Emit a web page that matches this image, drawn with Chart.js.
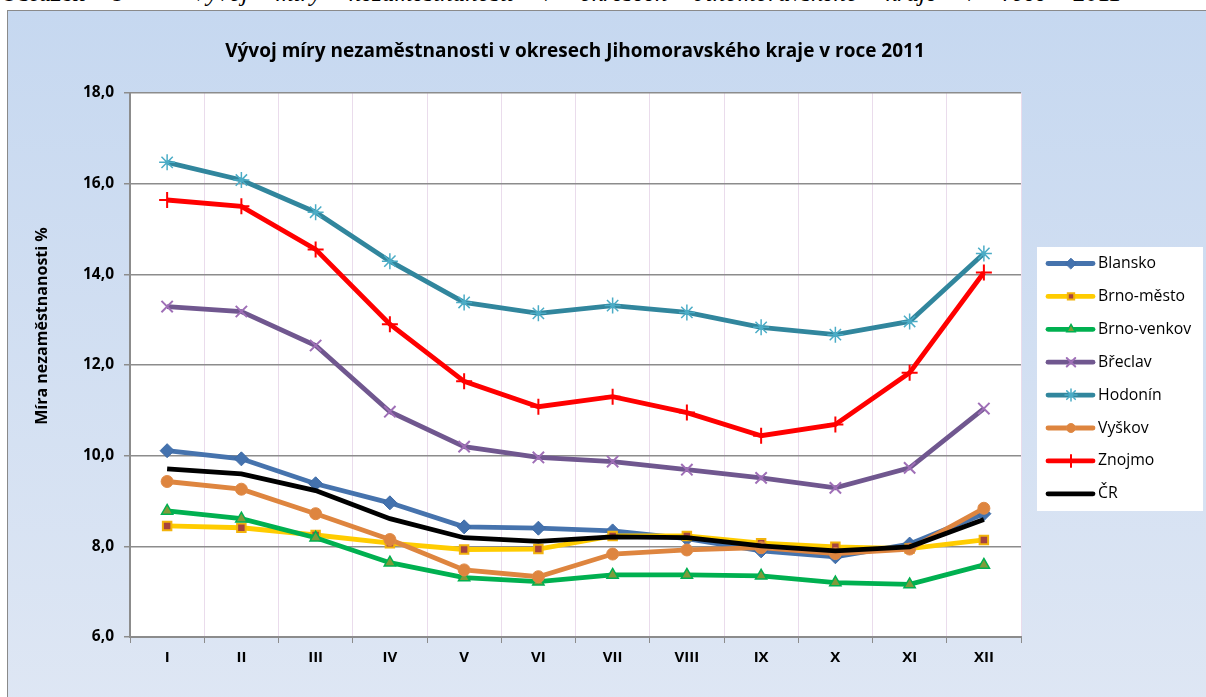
<!DOCTYPE html>
<html>
<head>
<meta charset="utf-8">
<script src="https://cdn.jsdelivr.net/npm/chart.js@4/dist/chart.umd.min.js"></script>
<style>
  body { margin: 0; width: 1206px; height: 697px; overflow: hidden; background: #fff; position: relative; }
  .caption { position: absolute; left: 0; top: -21px; font: 25px "Liberation Serif", serif; white-space: nowrap; color: #000; word-spacing: 21px; }
  .frame { position: absolute; left: 7px; top: 10px; width: 1220px; height: 720px; border: 1px solid #8a8a8a;
           background: linear-gradient(#c6d8f0, #dfe7f4); }
  #chart { position: absolute; left: 0; top: 0; }
</style>
</head>
<body>
<div class="caption">Obrázek 9 – <i>Vývoj míry nezaměstnanosti v okresech Jihomoravského kraje v roce 2011</i></div>
<div class="frame"></div>
<canvas id="chart" width="1206" height="697"></canvas>
<script>
const months = ['I', 'II', 'III', 'IV', 'V', 'VI', 'VII', 'VIII', 'IX', 'X', 'XI', 'XII']

const blansko     = [10.11, 9.93, 9.38, 8.96, 8.43, 8.40, 8.34, 8.17, 7.90, 7.77, 8.05, 8.72]
const brnoMesto   = [8.45, 8.41, 8.25, 8.07, 7.93, 7.94, 8.23, 8.23, 8.07, 7.99, 7.95, 8.14]
const brnoVenkov  = [8.78, 8.61, 8.19, 7.64, 7.31, 7.22, 7.37, 7.37, 7.35, 7.20, 7.16, 7.59]
const breclav     = [13.29, 13.18, 12.43, 10.97, 10.20, 9.96, 9.87, 9.69, 9.51, 9.29, 9.73, 11.04]
const hodonin     = [16.47, 16.08, 15.37, 14.29, 13.38, 13.14, 13.31, 13.16, 12.83, 12.67, 12.96, 14.46]
const vyskov      = [9.43, 9.26, 8.72, 8.15, 7.48, 7.33, 7.83, 7.92, 7.97, 7.84, 7.94, 8.84]
const znojmo      = [15.64, 15.50, 14.55, 12.90, 11.64, 11.08, 11.30, 10.95, 10.44, 10.69, 11.83, 14.04]
const cr          = [9.71, 9.60, 9.23, 8.61, 8.19, 8.11, 8.21, 8.19, 8.01, 7.90, 7.99, 8.59]

const yTicks = [6, 8, 10, 12, 14, 16, 18]

const chartTitle = 'Vývoj míry nezaměstnanosti v okresech Jihomoravského kraje v roce 2011'
const yTitle = 'Míra nezaměstnanosti %'

function series(label, data, line, style, extra) {
    return Object.assign({
        label,
        data,
        borderColor: line,
        borderWidth: 4.8,
        pointStyle: style,
        tension: 0,
        clip: false,
    }, extra)
}

const datasets = [
    series('Blansko', blansko, '#4673AD', 'rectRot',
        { pointRadius: 7, pointBackgroundColor: '#4472AE', pointBorderColor: '#3E6BA6', pointBorderWidth: 1 }),
    series('Brno-město', brnoMesto, '#FFCC00', 'rect',
        { pointRadius: 6, pointBackgroundColor: '#A5433F', pointBorderColor: '#F2B30C', pointBorderWidth: 2 }),
    series('Brno-venkov', brnoVenkov, '#00B050', 'triangle',
        { pointRadius: 6.5, pointBackgroundColor: '#7F9A3A', pointBorderColor: '#00B050', pointBorderWidth: 1.5 }),
    series('Břeclav', breclav, '#70578F', 'crossRot',
        { pointRadius: 8, pointBackgroundColor: '#9F6FB7', pointBorderColor: '#9F6FB7', pointBorderWidth: 2 }),
    series('Hodonín', hodonin, '#31869D', 'star',
        { pointRadius: 8, pointBackgroundColor: '#4BACC6', pointBorderColor: '#4BACC6', pointBorderWidth: 1.5 }),
    series('Vyškov', vyskov, '#DE853F', 'circle',
        { pointRadius: 6, pointBackgroundColor: '#DE853F', pointBorderColor: '#E08B48', pointBorderWidth: 1 }),
    series('Znojmo', znojmo, '#FF0000', 'cross',
        { pointRadius: 8, pointBackgroundColor: '#FF0000', pointBorderColor: '#FF0000', pointBorderWidth: 2 }),
    series('ČR', cr, '#000000', false, { pointRadius: 0 }),
]
// excel draws later series on top
datasets.forEach((ds, i) => { ds.order = datasets.length - i })

// white plot area, title, axis title and legend box
const decor = {
    id: 'decor',
    beforeDraw(chart) {
        const { ctx, chartArea: a } = chart
        ctx.save()
        ctx.fillStyle = '#fff'
        ctx.fillRect(a.left, a.top, a.right - a.left, a.bottom - a.top)
        ctx.restore()
    },
    afterDraw(chart) {
        const ctx = chart.ctx
        ctx.save()
        ctx.fillStyle = '#000'
        ctx.textAlign = 'center'
        ctx.textBaseline = 'middle'
        ctx.font = 'bold 19px "Open Sans"'
        ctx.fillText(chartTitle, 575, 52)

        ctx.translate(42, 326)
        ctx.rotate(-Math.PI / 2)
        ctx.font = 'bold 16px "Open Sans"'
        ctx.fillText(yTitle, 0, 0)
        ctx.restore()

        // legend
        ctx.save()
        ctx.fillStyle = '#fff'
        ctx.fillRect(1037, 247, 166, 264)
        ctx.font = '15.8px "Open Sans"'
        ctx.textAlign = 'left'
        ctx.textBaseline = 'middle'
        datasets.forEach((ds, i) => {
            const y = 263.5 + i * 32.9
            ctx.strokeStyle = ds.borderColor
            ctx.lineWidth = 4.8
            ctx.lineCap = 'round'
            ctx.beginPath()
            ctx.moveTo(1048, y)
            ctx.lineTo(1093, y)
            ctx.stroke()
            if (ds.pointStyle && Chart.helpers && Chart.helpers.drawPoint) {
                ctx.fillStyle = ds.pointBackgroundColor
                ctx.strokeStyle = ds.pointBorderColor
                ctx.lineWidth = ds.pointBorderWidth
                Chart.helpers.drawPoint(ctx, { pointStyle: ds.pointStyle, radius: ds.pointRadius * 0.75, rotation: 0, borderWidth: ds.pointBorderWidth }, 1071, y)
            }
            ctx.fillStyle = '#000'
            ctx.fillText(ds.label, 1098, y)
        })
        ctx.restore()
    }
}

new Chart(document.getElementById('chart'), {
    type: 'line',
    data: { labels: months, datasets },
    options: {
        responsive: false,
        devicePixelRatio: 1,
        animation: false,
        layout: { padding: { left: 0, top: 93, right: 185, bottom: 0 } },
        plugins: { legend: { display: false }, tooltip: { enabled: false } },
        scales: {
            x: {
                offset: true,
                afterFit(s) { s.height = 60 },
                grid: { offset: true, color: '#eadcec', lineWidth: 1, tickColor: '#8c8c8c', tickLength: 6 },
                border: { color: '#8c8c8c', width: 2 },
                ticks: { color: '#000', font: { family: 'Open Sans', size: 15, weight: 'bold' }, padding: 6, maxRotation: 0 },
            },
            y: {
                min: 6,
                max: 18,
                afterFit(s) { s.width = 130 },
                afterBuildTicks(s) { s.ticks = yTicks.map(v => ({ value: v })) },
                grid: { color: '#8c8c8c', lineWidth: 1.5, tickLength: 6 },
                border: { color: '#8c8c8c', width: 2 },
                ticks: {
                    color: '#000',
                    font: { family: 'Open Sans', size: 15.5, weight: 'bold' },
                    padding: 10,
                    callback: v => v.toFixed(1).replace('.', ','),
                },
            },
        },
    },
    plugins: [decor],
})
</script>
</body>
</html>
